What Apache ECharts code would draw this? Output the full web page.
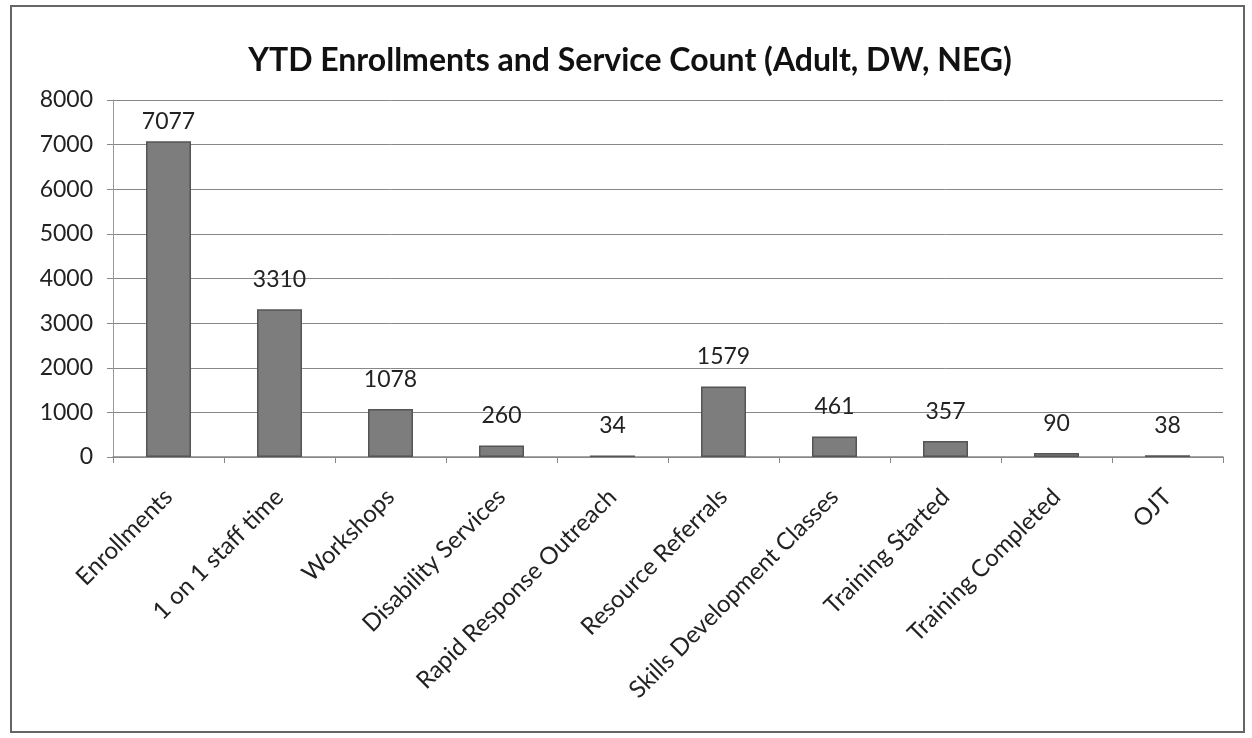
<!DOCTYPE html>
<html>
<head>
<meta charset="utf-8">
<title>YTD Enrollments and Service Count</title>
<script src="https://cdn.jsdelivr.net/npm/echarts@6/dist/echarts.min.js"></script>
<style>
	html, body { margin: 0; padding: 0; background: #fff; }
	#frame {
		position: absolute; left: 10px; top: 5px; width: 1235px; height: 728px;
		border: 2px solid #666; box-sizing: border-box;
	}
	#chart { position: absolute; left: 0; top: 0; width: 1252px; height: 738px; }
</style>
</head>
<body>
<div id="frame"></div>
<div id="chart"></div>
<script>
//分类名称
var categories = ['Enrollments', '1 on 1 staff time', 'Workshops', 'Disability Services',
	'Rapid Response Outreach', 'Resource Referrals', 'Skills Development Classes',
	'Training Started', 'Training Completed', 'OJT'];
//数值
var counts = [7077, 3310, 1078, 260, 34, 1579, 461, 357, 90, 38];
//纵轴范围
var yMin = 0;
var yMax = 8000;
var yStep = 1000;

var fontFam = 'Lato, "Open Sans", sans-serif';

//最高的柱子标签离柱顶近一点(原图如此)
var barData = counts.map(function(v, i) {
	if(i == 0) {
		return { value: v, label: { distance: 8 } };
	}
	return v;
});

var chart = echarts.init(document.getElementById('chart'));
chart.setOption({
	animation: false,
	title: {
		text: 'YTD Enrollments and Service Count (Adult, DW, NEG)',
		left: 625,
		textAlign: 'center',
		top: 40,
		textStyle: { fontFamily: fontFam, fontSize: 32, fontWeight: 'bold', color: '#111' }
	},
	grid: { left: 113, right: 29, top: 100, bottom: 281, containLabel: false },
	xAxis: {
		type: 'category',
		data: categories,
		axisLine: { lineStyle: { color: '#888', width: 1.5 } },
		axisTick: { show: true, length: 6, lineStyle: { color: '#888' } },
		axisLabel: {
			interval: 0,
			rotate: 45,
			margin: 36,
			fontFamily: fontFam,
			fontSize: 24,
			color: '#222'
		}
	},
	yAxis: {
		type: 'value',
		min: yMin,
		max: yMax,
		interval: yStep,
		axisLine: { show: true, lineStyle: { color: '#999' } },
		axisTick: { show: true, length: 6, lineStyle: { color: '#888' } },
		splitLine: { lineStyle: { color: '#888', width: 1 } },
		axisLabel: {
			fontFamily: fontFam, fontSize: 23, color: '#222', margin: 20,
			formatter: function(v) { return String(v); }
		}
	},
	series: [{
		type: 'bar',
		data: barData,
		barWidth: 45,
		itemStyle: { color: '#7d7d7d', borderColor: '#555', borderWidth: 1.5 },
		label: {
			show: true,
			position: 'top',
			distance: 18,
			fontFamily: fontFam,
			fontSize: 23,
			color: '#222'
		}
	}]
});
</script>
</body>
</html>
